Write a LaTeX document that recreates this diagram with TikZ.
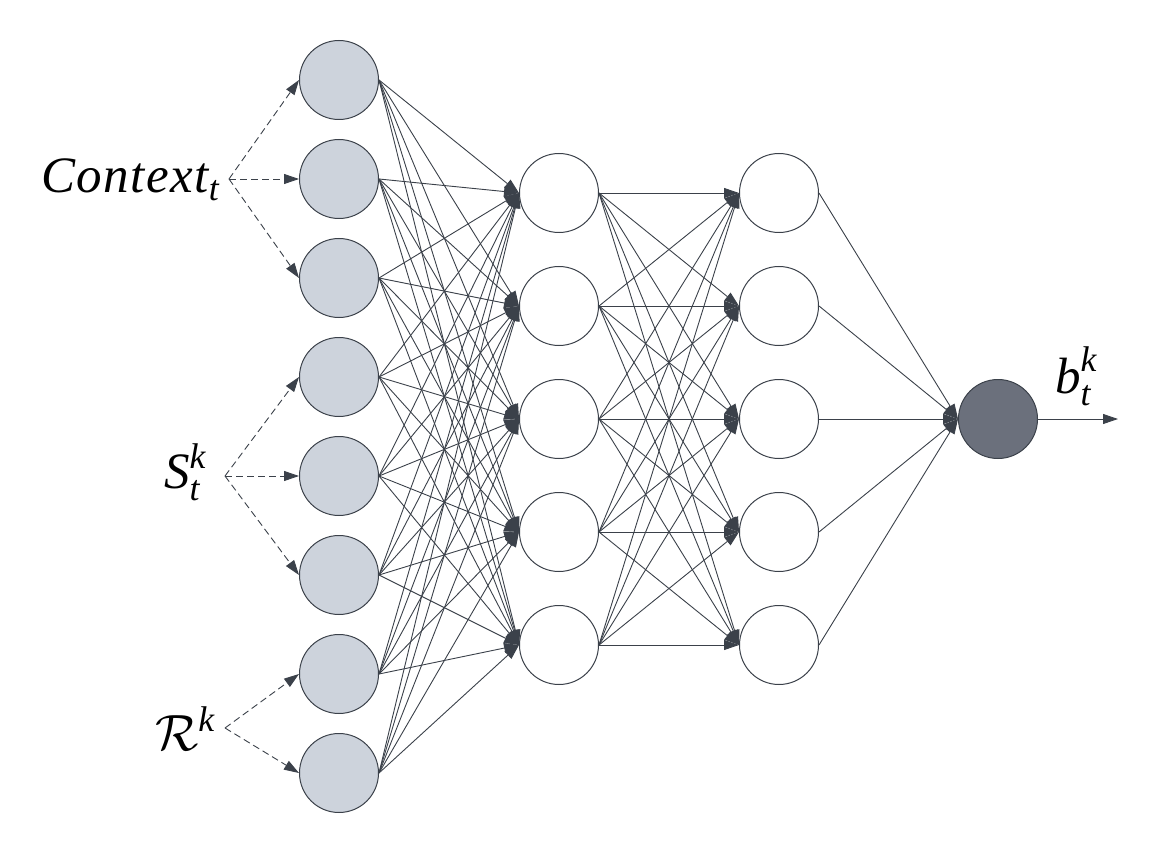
\RequirePackage{fix-cm}
\documentclass[tikz,border=0pt]{standalone}
\usepackage{amsmath}
\usepackage{fontspec}
\setmainfont{Liberation Serif}
\newfontfamily\tnr{Liberation Serif}
\usetikzlibrary{arrows.meta}
\definecolor{ln}{HTML}{3B414A}
\definecolor{infill}{HTML}{CDD3DC}
\definecolor{outfill}{HTML}{6B707C}
\newcommand{\iv}[1]{\text{\tnr\itshape #1}}
\tikzset{
  neuron/.style={circle,draw=ln,line width=1pt,minimum size=79pt,inner sep=0pt},
  inneuron/.style={neuron,fill=infill},
  hidneuron/.style={neuron,fill=white},
  outneuron/.style={neuron,fill=outfill},
  conn/.style={draw=ln,line width=0.9pt,-{Triangle[length=15pt,width=10pt]}},
  dconn/.style={conn,dashed,dash pattern=on 7pt off 4pt},
  lbl/.style={inner sep=0pt,font=\tnr\fontsize{51}{56}\selectfont}
}
\begin{document}
\begin{tikzpicture}[x=1pt,y=-1pt]
\useasboundingbox (0,0) rectangle (1157,853);
% input layer
\foreach \i/\y in {1/80,2/179,3/278,4/377,5/476,6/575,7/674,8/773}
  \node[inneuron] (i\i) at (339,\y) {};
% hidden layers
\foreach \j/\y in {1/193,2/306,3/419,4/532,5/645}{
  \node[hidneuron] (h\j) at (559,\y) {};
  \node[hidneuron] (g\j) at (779,\y) {};
}
% output
\node[outneuron] (o) at (998,419) {};
% connections
\foreach \i in {1,...,8}
  \foreach \j in {1,...,5}
    \draw[conn] (i\i.east) -- (h\j.west);
\foreach \i in {1,...,5}
  \foreach \j in {1,...,5}
    \draw[conn] (h\i.east) -- (g\j.west);
\foreach \j in {1,...,5}
  \draw[conn] (g\j.east) -- (o.west);
\coordinate (oend) at (1118,419);
\draw[conn] (o.east) -- (oend);
% labels
\node[lbl,anchor=base west] (ctx) at (41,193) {$\iv{C\kern1.5pt o\kern1.5pt n\kern1.5pt t\kern1.5pt e\kern1.5pt x\kern1.5pt t}_{\iv{t}}$};
\node[lbl,anchor=base west] (st) at (164,488) {$\iv{S}_{\iv{t}}^{\iv{k}}$};
\node[lbl,anchor=base west] (rk) at (155,750) {$\mathcal{R}^{\iv{k}}$};
\node[lbl,anchor=base west] (bt) at (1055,393) {$\iv{b}_{\iv{t}}^{\iv{k}}$};
\coordinate (cC) at (229,179);
\coordinate (cS) at (225,476);
\coordinate (cR) at (225,728);
\foreach \i in {1,2,3} \draw[dconn] (cC) -- (i\i.west);
\foreach \i in {4,5,6} \draw[dconn] (cS) -- (i\i.west);
\foreach \i in {7,8} \draw[dconn] (cR) -- (i\i.west);
\end{tikzpicture}
\end{document}
